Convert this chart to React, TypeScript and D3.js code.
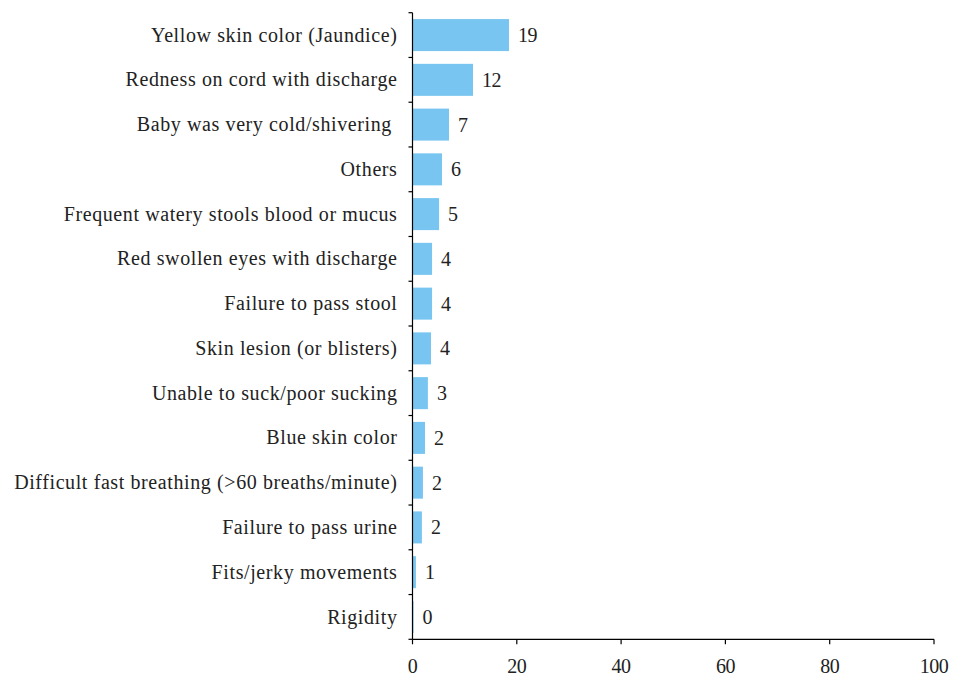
import React from "react";
import * as d3 from "d3";

const categories = [
  "Yellow skin color (Jaundice)",
  "Redness on cord with discharge",
  "Baby was very cold/shivering ",
  "Others",
  "Frequent watery stools blood or mucus",
  "Red swollen eyes with discharge",
  "Failure to pass stool",
  "Skin lesion (or blisters)",
  "Unable to suck/poor sucking",
  "Blue skin color",
  "Difficult fast breathing (>60 breaths/minute)",
  "Failure to pass urine",
  "Fits/jerky movements",
  "Rigidity",
];
const values = [18.5, 11.6, 7.0, 5.65, 5.1, 3.75, 3.75, 3.55, 2.95, 2.4, 2.0, 1.8, 0.65, 0.2];
const valueLabels = ["19", "12", "7", "6", "5", "4", "4", "4", "3", "2", "2", "2", "1", "0"];
const xTicks = [0, 20, 40, 60, 80, 100];

const W = 953;
const H = 679;
const left = 412.5;
const right = 934;
const top = 12.7;
const bottom = 639.3;
const font = "Liberation Serif";

export default function App() {
  const x = d3.scaleLinear().domain([0, 100]).range([left, right]);
  const y = d3.scaleBand<number>().domain(d3.range(categories.length)).range([top, bottom]).paddingInner(0.285).paddingOuter(0.1425);
  const step = y.step();
  const boundaries = d3.range(categories.length + 1).map((i) => top + i * step);
  return (
    <svg width={W} height={H} style={{ position: "absolute", left: 0, top: 0 }}>
      <rect width={W} height={H} fill="#fff" />
      {categories.map((c, i) => (
        <g key={i}>
          <rect x={x(0)} y={y(i)!} width={x(values[i]) - x(0)} height={y.bandwidth()} fill="#77C5F0" />
          <text x={x(values[i]) + 9} y={y(i)! + y.bandwidth() / 2} dy="0.35em" fontSize={20} letterSpacing={-0.5} fontFamily={font} fill="#222">
            {valueLabels[i]}
          </text>
          <text x={left - 15} y={y(i)! + y.bandwidth() / 2} dy="0.33em" fontSize={20} letterSpacing={0.6} fontFamily={font} fill="#222" textAnchor="end" style={{ whiteSpace: "pre" }}>
            {c}
          </text>
        </g>
      ))}
      <line x1={left} x2={left} y1={top} y2={bottom} stroke="#000" strokeWidth={1.2} />
      {boundaries.map((b, i) => (
        <line key={i} x1={left - 4} x2={left} y1={b} y2={b} stroke="#000" strokeWidth={1.2} />
      ))}
      <line x1={left} x2={right} y1={bottom} y2={bottom} stroke="#000" strokeWidth={1.2} />
      {xTicks.map((t) => (
        <g key={t}>
          <line x1={x(t)} x2={x(t)} y1={bottom} y2={bottom + 5} stroke="#000" strokeWidth={1.2} />
          <text x={x(t)} y={673} fontSize={20} letterSpacing={-0.5} fontFamily={font} fill="#222" textAnchor="middle">
            {t}
          </text>
        </g>
      ))}
    </svg>
  );
}
